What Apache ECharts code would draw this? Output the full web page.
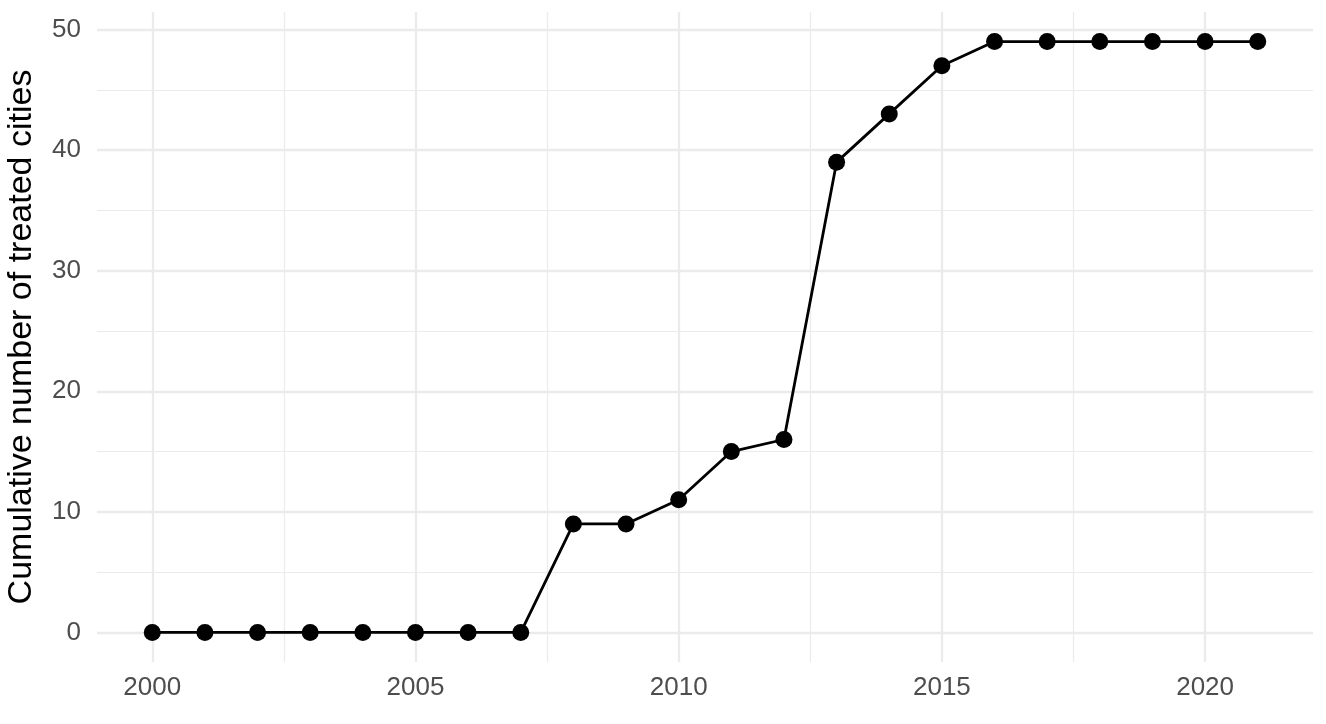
<!DOCTYPE html>
<html>
<head>
<meta charset="utf-8">
<script src="https://cdn.jsdelivr.net/npm/echarts@6/dist/echarts.min.js"></script>
<style>
  html, body { margin: 0; padding: 0; background: #fff; }
  #chart { width: 1326px; height: 724px; }
</style>
</head>
<body>
<div id="chart"></div>
<script>
const years = [2000, 2001, 2002, 2003, 2004, 2005, 2006, 2007, 2008, 2009, 2010,
  2011, 2012, 2013, 2014, 2015, 2016, 2017, 2018, 2019, 2020, 2021];
const treated = [0, 0, 0, 0, 0, 0, 0, 0, 9, 9, 11, 15, 16, 39, 43, 47, 49, 49, 49, 49, 49, 49];

const xBreaks = [2000, 2005, 2010, 2015, 2020];
const xMinor = [2002.5, 2007.5, 2012.5, 2017.5];
const yBreaks = [0, 10, 20, 30, 40, 50];
const yMinor = [5, 15, 25, 35, 45];

// ggplot-style 5% expansion
const xMin = 1998.95, xMax = 2022.05;
const yMin = -2.45, yMax = 51.45;

const chart = echarts.init(document.getElementById('chart'));

function vLines(vals) {
  return vals.map(v => [{coord: [v, yMin]}, {coord: [v, yMax]}]);
}
function hLines(vals) {
  return vals.map(v => [{coord: [xMin, v]}, {coord: [xMax, v]}]);
}

const textFont = 'Liberation Sans, Arial, sans-serif';

chart.setOption({
  animation: false,
  grid: {left: 97, right: 13, top: 12, bottom: 62, outerBoundsMode: 'none', containLabel: false},
  xAxis: {
    type: 'value',
    min: xMin,
    max: xMax,
    axisLine: {show: false},
    axisTick: {show: false},
    splitLine: {show: false},
    axisLabel: {
      customValues: xBreaks,
      color: '#4d4d4d',
      fontSize: 26,
      fontFamily: textFont,
      margin: 13,
      formatter: v => String(v)
    }
  },
  yAxis: {
    type: 'value',
    min: yMin,
    max: yMax,
    name: 'Cumulative number of treated cities',
    nameLocation: 'middle',
    nameGap: 58,
    nameTextStyle: {color: '#000', fontSize: 34, fontFamily: textFont},
    axisLine: {show: false},
    axisTick: {show: false},
    splitLine: {show: false},
    axisLabel: {
      customValues: yBreaks,
      color: '#4d4d4d',
      fontSize: 26,
      fontFamily: textFont,
      margin: 16,
      formatter: v => String(v)
    }
  },
  series: [
    {
      type: 'line',
      data: [],
      silent: true,
      markLine: {
        silent: true,
        symbol: 'none',
        label: {show: false},
        lineStyle: {color: '#ebebeb', width: 1.2, type: 'solid'},
        data: vLines(xMinor).concat(hLines(yMinor))
      }
    },
    {
      type: 'line',
      data: [],
      silent: true,
      markLine: {
        silent: true,
        symbol: 'none',
        label: {show: false},
        lineStyle: {color: '#ebebeb', width: 2.3, type: 'solid'},
        data: vLines(xBreaks).concat(hLines(yBreaks))
      }
    },
    {
      type: 'line',
      data: years.map((y, i) => [y, treated[i]]),
      symbol: 'circle',
      symbolSize: 17,
      lineStyle: {color: '#000', width: 2.8},
      itemStyle: {color: '#000'},
      z: 5
    }
  ]
});
</script>
</body>
</html>
